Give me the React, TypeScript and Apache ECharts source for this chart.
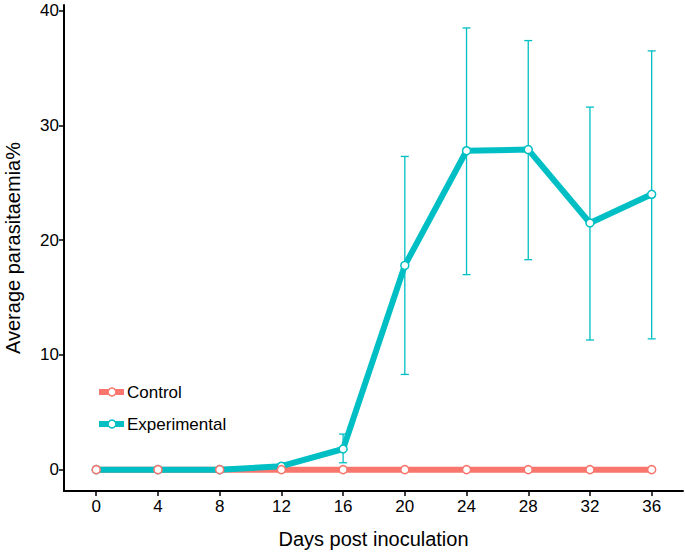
import React, { useEffect, useRef } from "react";
import * as echarts from "echarts";

const days = [0, 4, 8, 12, 16, 20, 24, 28, 32, 36];
const controlValues = [0, 0, 0, 0, 0, 0, 0, 0, 0, 0];
const experimentalValues = [0, 0, 0, 0.3, 1.8, 17.8, 27.8, 27.9, 21.5, 24.0];
const experimentalLow = [0, 0, 0, 0.2, 0.6, 8.3, 17.0, 18.3, 11.3, 11.4];
const experimentalHigh = [0, 0, 0, 0.4, 3.1, 27.3, 38.5, 37.4, 31.6, 36.5];
const xTicks = [0, 4, 8, 12, 16, 20, 24, 28, 32, 36];
const yTicks = [0, 10, 20, 30, 40];

const RED = "#F8766D";
const TEAL = "#00BFC4";
const FONT = "'Liberation Sans', Arial, sans-serif";

export default function App() {
  const ref = useRef<HTMLDivElement>(null);
  useEffect(() => {
    if (!ref.current) return;
    const chart = echarts.init(ref.current, undefined, { renderer: "svg" });
    const ctrl = days.map((d, i) => [d, controlValues[i]]);
    const exp = days.map((d, i) => [d, experimentalValues[i]]);
    const err = days.map((d, i) => [d, experimentalLow[i], experimentalHigh[i]]);
    chart.setOption({
      animation: false,
      backgroundColor: "#ffffff",
      grid: { left: 64, right: 2, top: 5, bottom: 61, containLabel: false, outerBoundsMode: "none" },
      xAxis: {
        type: "value",
        min: -2.09,
        max: 38.03,
        name: "Days post inoculation",
        nameLocation: "middle",
        nameGap: 38,
        nameTextStyle: { fontFamily: FONT, fontSize: 20, color: "#000" },
        axisLine: { show: true, onZero: false, lineStyle: { color: "#000", width: 2 } },
        axisTick: { show: true, customValues: xTicks, length: 5, lineStyle: { color: "#000", width: 1.5 } },
        axisLabel: { customValues: xTicks, fontFamily: FONT, fontSize: 17, color: "#000", margin: 7 },
        splitLine: { show: false },
      },
      yAxis: {
        type: "value",
        min: -1.86,
        max: 40.5,
        name: "Average parasitaemia%",
        nameLocation: "middle",
        nameGap: 41,
        nameTextStyle: { fontFamily: FONT, fontSize: 20, color: "#000" },
        axisLine: { show: true, onZero: false, lineStyle: { color: "#000", width: 2 } },
        axisTick: { show: true, customValues: yTicks, length: 5, lineStyle: { color: "#000", width: 1.5 } },
        axisLabel: { customValues: yTicks, fontFamily: FONT, fontSize: 17, color: "#000", margin: 5 },
        splitLine: { show: false },
      },
      series: [
        {
          name: "Control",
          type: "line",
          data: ctrl,
          showSymbol: false,
          lineStyle: { color: RED, width: 6 },
          z: 2,
        },
        {
          name: "Experimental",
          type: "line",
          data: exp,
          showSymbol: false,
          lineStyle: { color: TEAL, width: 6 },
          z: 3,
        },
        {
          type: "custom",
          data: err,
          z: 4,
          renderItem: (params: any, api: any) => {
            const x = api.value(0);
            const lo = api.value(1);
            const hi = api.value(2);
            const pLo = api.coord([x, lo]);
            const pHi = api.coord([x, hi]);
            const w = 4;
            const style = { stroke: TEAL, lineWidth: 1.3 };
            return {
              type: "group",
              children: [
                { type: "line", shape: { x1: pLo[0], y1: pLo[1], x2: pHi[0], y2: pHi[1] }, style },
                { type: "line", shape: { x1: pLo[0] - w, y1: pLo[1], x2: pLo[0] + w, y2: pLo[1] }, style },
                { type: "line", shape: { x1: pHi[0] - w, y1: pHi[1], x2: pHi[0] + w, y2: pHi[1] }, style },
              ],
            };
          },
        },
        {
          type: "scatter",
          data: exp,
          symbol: "circle",
          symbolSize: 8,
          itemStyle: { color: "#fff", borderColor: TEAL, borderWidth: 1.5, opacity: 1 },
          emphasis: { disabled: true },
          z: 5,
        },
        {
          type: "scatter",
          data: ctrl,
          symbol: "circle",
          symbolSize: 8,
          itemStyle: { color: "#fff", borderColor: RED, borderWidth: 1.5, opacity: 1 },
          emphasis: { disabled: true },
          z: 6,
        },
      ],
      graphic: [
        { type: "rect", shape: { x: 99, y: 389, width: 25, height: 6 }, style: { fill: RED }, z: 10 },
        { type: "circle", shape: { cx: 112, cy: 392, r: 4 }, style: { fill: "#fff", stroke: RED, lineWidth: 1.5 }, z: 11 },
        { type: "text", x: 127, y: 392, style: { text: "Control", font: `17px ${FONT}`, fill: "#000", verticalAlign: "middle" }, z: 11 },
        { type: "rect", shape: { x: 99, y: 421, width: 25, height: 6 }, style: { fill: TEAL }, z: 10 },
        { type: "circle", shape: { cx: 112, cy: 424, r: 4 }, style: { fill: "#fff", stroke: TEAL, lineWidth: 1.5 }, z: 11 },
        { type: "text", x: 127, y: 424, style: { text: "Experimental", font: `17px ${FONT}`, fill: "#000", verticalAlign: "middle" }, z: 11 },
      ],
    });
    return () => chart.dispose();
  }, []);
  return <div ref={ref} style={{ width: 685, height: 552, position: "absolute", left: 0, top: 0 }} />;
}
